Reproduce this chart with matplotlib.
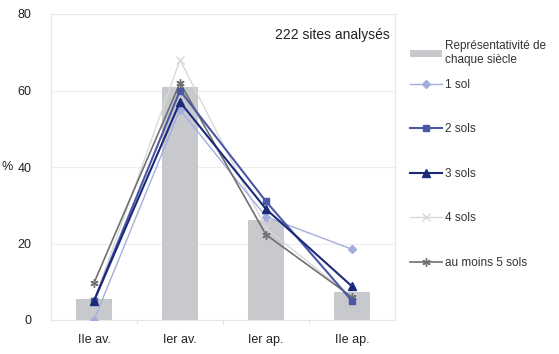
import matplotlib
matplotlib.use("Agg")
import matplotlib.pyplot as plt
import numpy as np

plt.rcParams['font.family'] = ['Liberation Sans', 'DejaVu Sans']

categories = ["IIe av.", "Ier av.", "Ier ap.", "IIe ap."]
representativite = [5.4, 61, 26.2, 7.3]
sol1 = [0, 55, 27, 18.5]
sol2 = [5, 60, 31, 5]
sol3 = [5, 57, 29, 8.8]
sol4 = [5, 68, 24, 6]
sol5 = [9.7, 62, 22.3, 6]

fig = plt.figure(figsize=(5.59, 3.54), dpi=100)
ax = fig.add_axes([51/559, 1-320/354, 344/559, (320-14)/354])

x = np.arange(len(categories))
bars = ax.bar(x, representativite, width=0.41, color='#C8C9CD', zorder=1,
              label="Représentativité de\nchaque siècle")
l1, = ax.plot(x, sol1, color='#A3AEDD', marker='D', markersize=4, lw=1, zorder=3, label="1 sol")
l2, = ax.plot(x, sol2, color='#4C57A6', marker='s', markersize=5, lw=1.5, zorder=4, label="2 sols")
l3, = ax.plot(x, sol3, color='#1B2A7A', marker='^', markersize=6, lw=1.5, zorder=5, label="3 sols")
l4, = ax.plot(x, sol4, color='#D9D9D9', marker='x', markersize=6, lw=1, zorder=2, label="4 sols")
l5, = ax.plot(x, sol5, color='#707070', marker=(6, 2, 0), markersize=6, lw=1.2, zorder=3, label="au moins 5 sols")

ax.set_xlim(-0.5, 3.5)
ax.set_ylim(0, 80)
ax.set_yticks([0, 20, 40, 60, 80])
ax.set_xticks(x)
ax.set_xticklabels(categories)
ax.set_xticks([0.5, 1.5, 2.5], minor=True)
ax.tick_params(axis='x', which='minor', length=3, color='#DDDDDD')
ax.tick_params(axis='x', which='major', length=0, pad=10, labelsize=9, colors='#222222')
ax.tick_params(axis='y', length=0, pad=14, labelsize=9, colors='#222222')
ax.yaxis.grid(True, color='#EEEEEE', lw=0.8, zorder=0)
ax.set_axisbelow(True)
for s in ax.spines.values():
    s.set_color('#E6E6E6')
    s.set_linewidth(0.8)
ax.text(-0.112, 40, "%", transform=ax.get_yaxis_transform(), ha='right', va='center',
        fontsize=9, color='#222222')
ax.text(0.985, 0.955, "222 sites analysés", transform=ax.transAxes, ha='right', va='top',
        fontsize=10, color='#222222')

leg1 = fig.legend(handles=[bars], loc='upper left', bbox_to_anchor=(410/559, 1-40/354),
                  frameon=False, fontsize=8.5, handlelength=2.7, handleheight=0.5,
                  handletextpad=0.3, borderpad=0, borderaxespad=0)
leg2 = fig.legend(handles=[l1, l2, l3, l4, l5], loc='upper left',
                  bbox_to_anchor=(410/559, 1-79/354),
                  frameon=False, fontsize=8.5, labelspacing=2.75, handlelength=2.7,
                  handletextpad=0.3, borderpad=0, borderaxespad=0)
for leg in (leg1, leg2):
    for t in leg.get_texts():
        t.set_color('#333333')

fig.savefig("out.png", dpi=100)
